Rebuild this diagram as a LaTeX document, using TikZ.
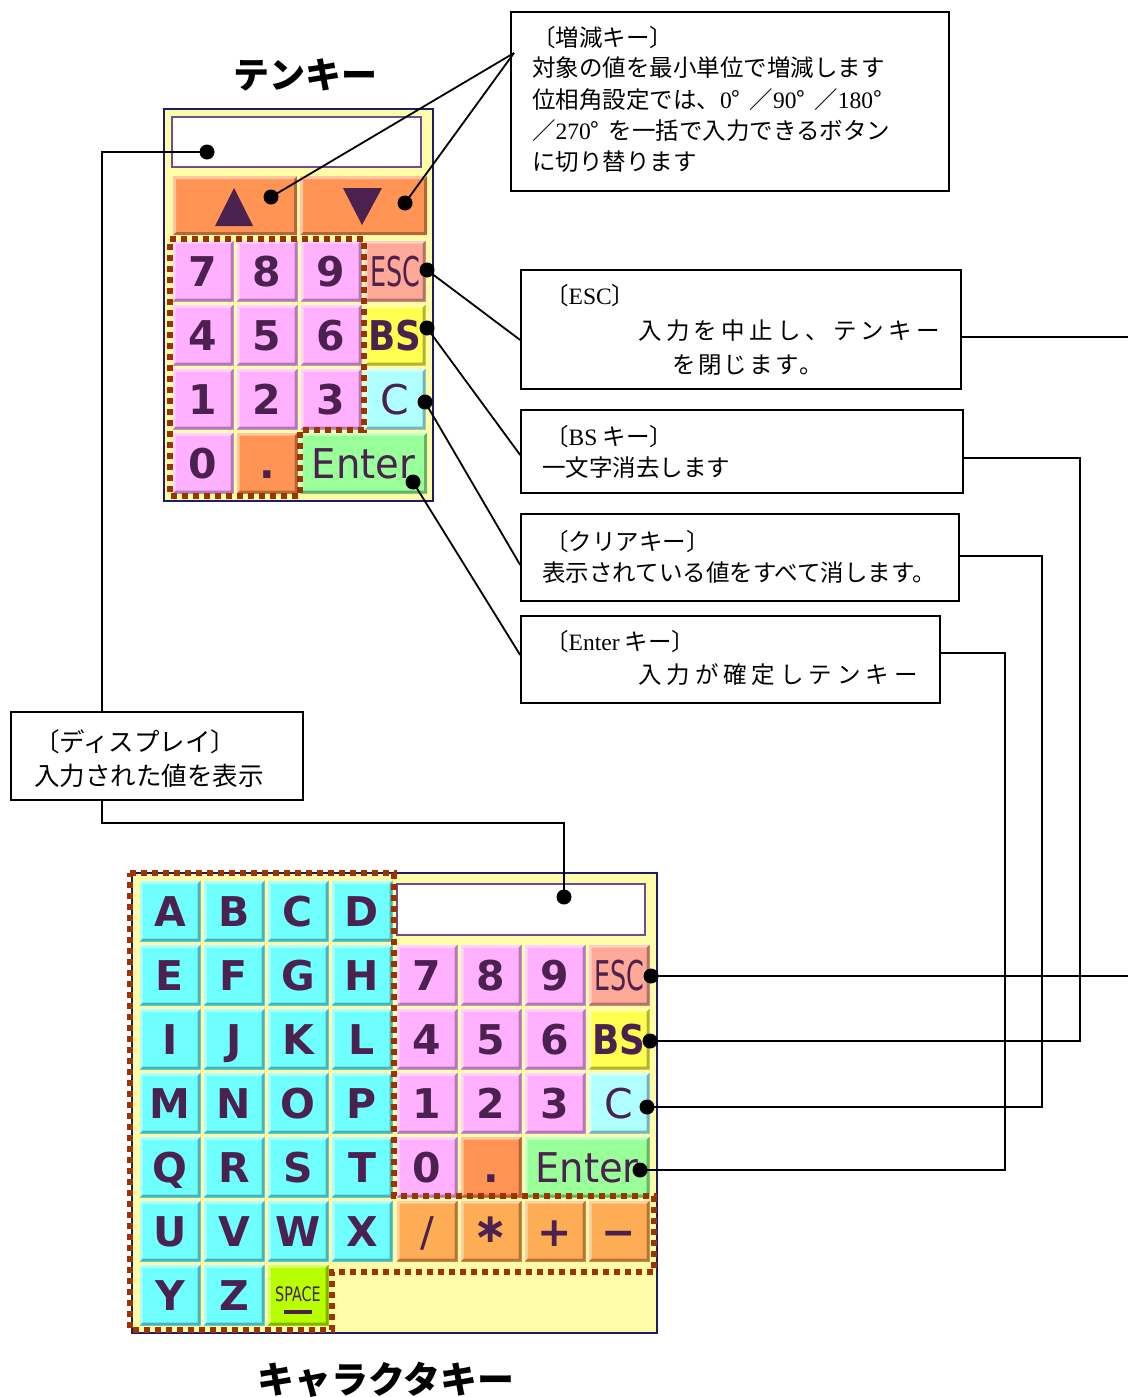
\documentclass[tikz,border=0pt]{standalone}
\usepackage{fontspec}
\usepackage{graphicx}
\setmainfont{Liberation Serif}
\newfontfamily\cjk{Noto Sans CJK JP}
\newfontfamily\keyfont{DejaVu Sans}
\usetikzlibrary{calc}
\definecolor{panelfill}{HTML}{FFFCA8}
\definecolor{navy}{HTML}{1C1C6B}
\definecolor{dispborder}{HTML}{6B4E9B}
\definecolor{keytext}{HTML}{4B2150}
\definecolor{pinkk}{HTML}{FFB0FF}
\definecolor{esck}{HTML}{FFA898}
\definecolor{bsk}{HTML}{FFFF50}
\definecolor{clrk}{HTML}{B0FFFF}
\definecolor{entk}{HTML}{99FF99}
\definecolor{orgk}{HTML}{FF9455}
\definecolor{opk}{HTML}{FFAD55}
\definecolor{letk}{HTML}{70FFFF}
\definecolor{spck}{HTML}{B8FF00}
\definecolor{dotred}{HTML}{9C3300}
\begin{document}
\begin{tikzpicture}[x=1pt,y=-1pt,
  bevel/.style={path picture={
    \fill[black,opacity=.3] (path picture bounding box.south west) -- (path picture bounding box.south east) -- (path picture bounding box.north east) -- ([shift={(-3pt,-3pt)}]path picture bounding box.north east) -- ([shift={(-3pt,3pt)}]path picture bounding box.south east) -- ([shift={(3pt,3pt)}]path picture bounding box.south west) -- cycle;
    \fill[white,opacity=.45] (path picture bounding box.south west) -- (path picture bounding box.north west) -- (path picture bounding box.north east) -- ([shift={(-3pt,-3pt)}]path picture bounding box.north east) -- ([shift={(3pt,-3pt)}]path picture bounding box.north west) -- ([shift={(3pt,3pt)}]path picture bounding box.south west) -- cycle;
  }},
  kbtn/.style={minimum width=61pt, minimum height=61pt, inner sep=0pt, text height=30pt, text depth=0pt, text=keytext, font=\keyfont\bfseries\fontsize{41}{41}\selectfont, fill=#1, bevel},
  kreg/.style={font=\keyfont\fontsize{41}{41}\selectfont},
  panel/.style={draw=navy, line width=2pt, fill=panelfill, inner sep=0pt},
  dispbox/.style={draw=dispborder, line width=2pt, fill=white, inner sep=0pt},
  dotline/.style={draw=dotred, line width=6pt, dash pattern=on 6pt off 5pt},
  dot/.style={circle, fill=black, minimum size=15pt, inner sep=0pt},
  conn/.style={draw, line width=1.8pt},
  callout/.style={draw, line width=1.6pt, fill=white, inner sep=0pt},
  txt/.style={font=\cjk\fontsize{23.5}{28}\selectfont, inner sep=0pt, anchor=west},
  txtb/.style={font=\cjk\fontsize{25.5}{30}\selectfont, inner sep=0pt, anchor=west},
  title/.style={font=\cjk\bfseries\fontsize{36}{40}\selectfont, inner sep=0pt}
]
\useasboundingbox (0,0) rectangle (1128,1397);

% ---------- titles
\node[title] (ttitle) at (305,75) {テンキー};
\node[title, font=\cjk\bfseries\fontsize{37}{40}\selectfont] (ctitle) at (386,1380) {キャラクタキー};

% ---------- ten key panel
\node[panel, minimum width=269pt, minimum height=392pt] (tpanel) at (298.5,305) {};
\node[dispbox, minimum width=249pt, minimum height=50pt] (tdisplay) at (296.5,142) {};
\node[kbtn=orgk, minimum width=124pt, minimum height=59pt] (tupk) at (235,205.5) {};
\node[kbtn=orgk, minimum width=127pt, minimum height=59pt] (tdownk) at (363.5,205.5) {};
\fill[keytext] (234,188) -- (253,226) -- (215,226) -- cycle;
\fill[keytext] (343,188) -- (382,188) -- (362,225) -- cycle;

\node[kbtn=pinkk] (t7) at (203,271) {7};
\node[kbtn=pinkk] (t8) at (267,271) {8};
\node[kbtn=pinkk] (t9) at (331,271) {9};
\node[kbtn=esck, kreg] (tesck) at (395,271) {\scalebox{0.62}[1]{ESC}};
\node[kbtn=pinkk] (t4) at (203,335) {4};
\node[kbtn=pinkk] (t5) at (267,335) {5};
\node[kbtn=pinkk] (t6) at (331,335) {6};
\node[kbtn=bsk] (tbsk) at (395,335) {\scalebox{0.87}[1]{BS}};
\node[kbtn=pinkk] (t1) at (203,399) {1};
\node[kbtn=pinkk] (t2) at (267,399) {2};
\node[kbtn=pinkk] (t3) at (331,399) {3};
\node[kbtn=clrk, kreg] (tck) at (395,399) {C};
\node[kbtn=pinkk] (t0) at (203,463) {0};
\node[kbtn=orgk] (tpt) at (267,463) {.};
\node[kbtn=entk, kreg, minimum width=127pt] (tentk) at (363.5,463) {\scalebox{0.94}[1]{Enter}};

\draw[dotline] (170,239) -- (364,239) -- (364,430) -- (300,430) -- (300,496) -- (170,496) -- cycle;

% ---------- character key panel
\node[panel, minimum width=525pt, minimum height=460pt] (cpanel) at (394.5,1103) {};
\node[dispbox, minimum width=248pt, minimum height=51pt] (cdisplay) at (521,909.5) {};
\foreach \t/\c/\r in {A/170/911,B/234/911,C/298/911,D/362/911,
  E/170/975,F/234/975,G/298/975,H/362/975,
  I/170/1039,J/234/1039,K/298/1039,L/362/1039,
  M/170/1103,N/234/1103,O/298/1103,P/362/1103,
  Q/170/1167,R/234/1167,S/298/1167,T/362/1167,
  U/170/1231,V/234/1231,W/298/1231,X/362/1231,
  Y/170/1295,Z/234/1295}
  \node[kbtn=letk] (c\t) at (\c,\r) {\t};
\node[kbtn=spck, text height=15pt] (cspace) at (298,1295) {};
\node[inner sep=0pt, text=keytext, font=\keyfont\fontsize{20}{20}\selectfont] (cspacelbl) at (298,1294) {\scalebox{0.72}[1]{SPACE}};
\fill[keytext] (284,1310) rectangle (312,1314);

\node[kbtn=pinkk] (c7) at (427,975) {7};
\node[kbtn=pinkk] (c8) at (491,975) {8};
\node[kbtn=pinkk] (c9) at (555,975) {9};
\node[kbtn=esck, kreg] (cesck) at (619,975) {\scalebox{0.62}[1]{ESC}};
\node[kbtn=pinkk] (c4) at (427,1039) {4};
\node[kbtn=pinkk] (c5) at (491,1039) {5};
\node[kbtn=pinkk] (c6) at (555,1039) {6};
\node[kbtn=bsk] (cbsk) at (619,1039) {\scalebox{0.87}[1]{BS}};
\node[kbtn=pinkk] (c1) at (427,1103) {1};
\node[kbtn=pinkk] (c2) at (491,1103) {2};
\node[kbtn=pinkk] (c3) at (555,1103) {3};
\node[kbtn=clrk, kreg] (cck) at (619,1103) {C};
\node[kbtn=pinkk] (c0) at (427,1167) {0};
\node[kbtn=orgk] (cpt) at (491,1167) {.};
\node[kbtn=entk, kreg, minimum width=125pt] (centk) at (587,1167) {\scalebox{0.94}[1]{Enter}};
\node[kbtn=opk, kreg] (cdiv) at (427,1231) {/};
\node[kbtn=opk] (cmul) at (491,1231) {\raisebox{4pt}{∗}};
\node[kbtn=opk] (cadd) at (555,1231) {+};
\node[kbtn=opk] (csub) at (619,1231) {−};

\draw[dotline] (130,873) -- (394,873) -- (394,1196) -- (654,1196) -- (654,1272) -- (332,1272) -- (332,1330) -- (130,1330) -- cycle;

% ---------- callout boxes
\node[callout, minimum width=438pt, minimum height=179pt] (zbox) at (730,101.5) {};
\node[txt] (z1) at (532,38) {〔増減キー〕};
\node[txt] (z2) at (532,68) {対象の値を最小単位で増減します};
\node[txt] (z3) at (532,100) {位相角設定では、{\rmfamily 0}°\hspace{9pt}／{\rmfamily 90}°\hspace{9pt}／{\rmfamily 180}°};
\node[txt] (z4) at (532,131) {／{\rmfamily 270}°\hspace{9pt}を一括で入力できるボタン};
\node[txt] (z5) at (532,162) {に切り替ります};

\node[callout, minimum width=440pt, minimum height=119pt] (escbox) at (741,329.5) {};
\node[txt] (e1) at (545,296) {〔{\rmfamily ESC}〕};
\node[txt] (e2) at (638,331) {\addfontfeature{LetterSpace=18.5}入力を中止し、テンキー};
\node[txt] (e3) at (672,365) {\addfontfeature{LetterSpace=10}を閉じます。};

\node[callout, minimum width=442pt, minimum height=83pt] (bsbox) at (742,451.5) {};
\node[txt] (b1) at (545,437) {〔{\rmfamily BS} キー〕};
\node[txt] (b2) at (542,468) {一文字消去します};

\node[callout, minimum width=438pt, minimum height=87pt] (clrbox) at (740,557.5) {};
\node[txt] (k1) at (545,542) {〔クリアキー〕};
\node[txt] (k2) at (542,573) {表示されている値をすべて消します。};

\node[callout, minimum width=419pt, minimum height=87pt] (entbox) at (730.5,659.5) {};
\node[txt] (n1) at (545,642) {〔{\rmfamily Enter} キー〕};
\node[txt] (n2) at (638,675) {\addfontfeature{LetterSpace=21}入力が確定しテンキー};

\node[callout, minimum width=292pt, minimum height=88pt] (dispbox) at (157,756) {};
\node[txtb] (d1) at (34,742) {〔ディスプレイ〕};
\node[txtb] (d2) at (34,776) {入力された値を表示};

% ---------- dots
\node[dot] (tdispdot) at (207,152) {};
\node[dot] (tupdot) at (271,197) {};
\node[dot] (tdowndot) at (405,203) {};
\node[dot] (tescdot) at (427,270) {};
\node[dot] (tbsdot) at (427,328) {};
\node[dot] (tcdot) at (425,402) {};
\node[dot] (tentdot) at (413,482) {};
\node[dot] (cdispdot) at (564,897) {};
\node[dot] (cescdot) at (651,976) {};
\node[dot] (cbsdot) at (650,1041) {};
\node[dot] (ccdot) at (647,1107) {};
\node[dot] (centdot) at (640,1170) {};

% ---------- connectors
\coordinate (zin) at (514,53);
\draw[conn] (tupdot.center) -- (zin);
\draw[conn] (tdowndot.center) -- (zin);

\coordinate (dl) at (102,152);
\coordinate (dl2) at (102,823);
\draw[conn] (tdispdot.center) -- (dl) -- (dl |- dispbox.north);
\draw[conn] (dl |- dispbox.south) -- (dl2) -| (cdispdot.center);

\draw[conn] (tescdot.center) -- (escbox.west |- {(0,340)});
\coordinate (escout) at (1128,337);
\draw[conn] (escbox.east |- escout) -- (escout);
\coordinate (cescout) at (1128,976);
\draw[conn] (cescdot.center) -- (cescout);

\draw[conn] (tbsdot.center) -- (bsbox.west |- {(0,455)});
\coordinate (bsr) at (1080,458);
\draw[conn] (bsbox.east |- bsr) -- (bsr) |- (cbsdot.center);

\draw[conn] (tcdot.center) -- (clrbox.west |- {(0,565)});
\coordinate (clr) at (1042,556);
\draw[conn] (clrbox.east |- clr) -- (clr) |- (ccdot.center);

\draw[conn] (tentdot.center) -- (entbox.west |- {(0,655)});
\coordinate (entr) at (1005,653);
\draw[conn] (entbox.east |- entr) -- (entr) |- (centdot.center);

\end{tikzpicture}
\end{document}
